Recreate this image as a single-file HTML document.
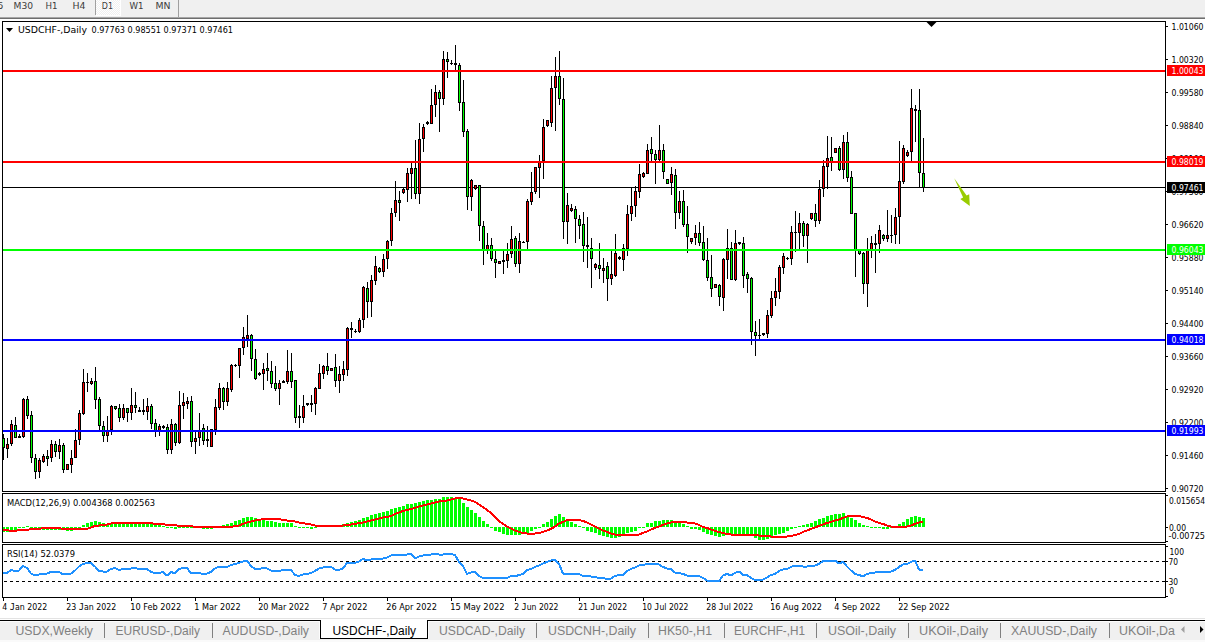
<!DOCTYPE html>
<html><head><meta charset="utf-8"><title>USDCHF-,Daily</title>
<style>html,body{margin:0;padding:0;background:#fff;overflow:hidden}svg{display:block}text{white-space:pre}</style></head>
<body>
<svg width="1205" height="642" viewBox="0 0 1205 642" font-family="Liberation Sans, sans-serif" shape-rendering="crispEdges">
<rect x="0" y="0" width="1205" height="642" fill="#fff"/>
<rect x="0" y="0" width="1205" height="17" fill="#f0f0f0"/>
<rect x="0" y="17" width="1205" height="1" fill="#a6a6a6"/>
<rect x="0" y="18" width="1205" height="1" fill="#6e6e6e"/>
<defs><pattern id="dz" width="2" height="2" patternUnits="userSpaceOnUse"><rect width="2" height="2" fill="#f0f0f0"/><rect width="1" height="1" fill="#fff"/><rect x="1" y="1" width="1" height="1" fill="#fff"/></pattern></defs>
<rect x="96" y="0" width="24" height="15" fill="url(#dz)"/>
<rect x="120" y="0" width="1" height="16" fill="#fff"/>
<rect x="96" y="15" width="25" height="1" fill="#fff"/>
<rect x="95" y="0" width="1" height="15" fill="#a0a0a0"/>
<rect x="178" y="0" width="1" height="17" fill="#a0a0a0"/>
<text x="-2.5" y="9" font-size="9.5" fill="#3c3c3c" textLength="6.0" lengthAdjust="spacingAndGlyphs" font-family="DejaVu Sans Condensed, Liberation Sans, sans-serif">5</text>
<text x="13.5" y="9" font-size="9.5" fill="#3c3c3c" textLength="19.5" lengthAdjust="spacingAndGlyphs" font-family="DejaVu Sans Condensed, Liberation Sans, sans-serif">M30</text>
<text x="45.5" y="9" font-size="9.5" fill="#3c3c3c" textLength="12.0" lengthAdjust="spacingAndGlyphs" font-family="DejaVu Sans Condensed, Liberation Sans, sans-serif">H1</text>
<text x="72.5" y="9" font-size="9.5" fill="#3c3c3c" textLength="13.0" lengthAdjust="spacingAndGlyphs" font-family="DejaVu Sans Condensed, Liberation Sans, sans-serif">H4</text>
<text x="101.8" y="9" font-size="9.5" fill="#3c3c3c" textLength="11.2" lengthAdjust="spacingAndGlyphs" font-family="DejaVu Sans Condensed, Liberation Sans, sans-serif">D1</text>
<text x="129.5" y="9" font-size="9.5" fill="#3c3c3c" textLength="14.0" lengthAdjust="spacingAndGlyphs" font-family="DejaVu Sans Condensed, Liberation Sans, sans-serif">W1</text>
<text x="155.5" y="9" font-size="9.5" fill="#3c3c3c" textLength="15.0" lengthAdjust="spacingAndGlyphs" font-family="DejaVu Sans Condensed, Liberation Sans, sans-serif">MN</text>
<rect x="3" y="187" width="1162" height="1" fill="#000"/>
<rect x="3" y="434" width="1" height="26" fill="#000"/>
<rect x="2" y="438" width="3" height="10" fill="#000"/>
<rect x="3" y="439" width="1" height="8" fill="#00ff00"/>
<rect x="7" y="438" width="1" height="20" fill="#000"/>
<rect x="6" y="444" width="3" height="5" fill="#000"/>
<rect x="7" y="445" width="1" height="3" fill="#ff0000"/>
<rect x="11" y="420" width="1" height="26" fill="#000"/>
<rect x="10" y="424" width="3" height="20" fill="#000"/>
<rect x="11" y="425" width="1" height="18" fill="#ff0000"/>
<rect x="15" y="417" width="1" height="21" fill="#000"/>
<rect x="14" y="425" width="3" height="13" fill="#000"/>
<rect x="15" y="426" width="1" height="11" fill="#00ff00"/>
<rect x="19" y="434" width="1" height="4" fill="#000"/>
<rect x="18" y="436" width="3" height="2" fill="#000"/>
<rect x="23" y="398" width="1" height="40" fill="#000"/>
<rect x="22" y="399" width="3" height="38" fill="#000"/>
<rect x="23" y="400" width="1" height="36" fill="#ff0000"/>
<rect x="27" y="396" width="1" height="23" fill="#000"/>
<rect x="26" y="399" width="3" height="17" fill="#000"/>
<rect x="27" y="400" width="1" height="15" fill="#00ff00"/>
<rect x="31" y="411" width="1" height="52" fill="#000"/>
<rect x="30" y="415" width="3" height="43" fill="#000"/>
<rect x="31" y="416" width="1" height="41" fill="#00ff00"/>
<rect x="35" y="454" width="1" height="25" fill="#000"/>
<rect x="34" y="458" width="3" height="14" fill="#000"/>
<rect x="35" y="459" width="1" height="12" fill="#00ff00"/>
<rect x="39" y="458" width="1" height="20" fill="#000"/>
<rect x="38" y="460" width="3" height="12" fill="#000"/>
<rect x="39" y="461" width="1" height="10" fill="#ff0000"/>
<rect x="43" y="454" width="1" height="9" fill="#000"/>
<rect x="42" y="456" width="3" height="6" fill="#000"/>
<rect x="43" y="457" width="1" height="4" fill="#ff0000"/>
<rect x="47" y="450" width="1" height="16" fill="#000"/>
<rect x="46" y="456" width="3" height="3" fill="#000"/>
<rect x="47" y="457" width="1" height="1" fill="#00ff00"/>
<rect x="51" y="440" width="1" height="22" fill="#000"/>
<rect x="50" y="444" width="3" height="14" fill="#000"/>
<rect x="51" y="445" width="1" height="12" fill="#ff0000"/>
<rect x="55" y="441" width="1" height="16" fill="#000"/>
<rect x="54" y="444" width="3" height="8" fill="#000"/>
<rect x="55" y="445" width="1" height="6" fill="#00ff00"/>
<rect x="59" y="439" width="1" height="20" fill="#000"/>
<rect x="58" y="445" width="3" height="7" fill="#000"/>
<rect x="59" y="446" width="1" height="5" fill="#ff0000"/>
<rect x="63" y="443" width="1" height="30" fill="#000"/>
<rect x="62" y="445" width="3" height="25" fill="#000"/>
<rect x="63" y="446" width="1" height="23" fill="#00ff00"/>
<rect x="67" y="465" width="1" height="5" fill="#000"/>
<rect x="66" y="464" width="3" height="6" fill="#000"/>
<rect x="67" y="465" width="1" height="4" fill="#ff0000"/>
<rect x="71" y="450" width="1" height="23" fill="#000"/>
<rect x="70" y="458" width="3" height="7" fill="#000"/>
<rect x="71" y="459" width="1" height="5" fill="#ff0000"/>
<rect x="75" y="429" width="1" height="29" fill="#000"/>
<rect x="74" y="440" width="3" height="18" fill="#000"/>
<rect x="75" y="441" width="1" height="16" fill="#ff0000"/>
<rect x="79" y="410" width="1" height="35" fill="#000"/>
<rect x="78" y="413" width="3" height="27" fill="#000"/>
<rect x="79" y="414" width="1" height="25" fill="#ff0000"/>
<rect x="83" y="369" width="1" height="46" fill="#000"/>
<rect x="82" y="382" width="3" height="32" fill="#000"/>
<rect x="83" y="383" width="1" height="30" fill="#ff0000"/>
<rect x="87" y="373" width="1" height="19" fill="#000"/>
<rect x="86" y="382" width="3" height="1" fill="#000"/>
<rect x="91" y="378" width="1" height="7" fill="#000"/>
<rect x="90" y="381" width="3" height="3" fill="#000"/>
<rect x="91" y="382" width="1" height="1" fill="#ff0000"/>
<rect x="95" y="367" width="1" height="42" fill="#000"/>
<rect x="94" y="381" width="3" height="19" fill="#000"/>
<rect x="95" y="382" width="1" height="17" fill="#00ff00"/>
<rect x="99" y="397" width="1" height="33" fill="#000"/>
<rect x="98" y="399" width="3" height="27" fill="#000"/>
<rect x="99" y="400" width="1" height="25" fill="#00ff00"/>
<rect x="103" y="421" width="1" height="21" fill="#000"/>
<rect x="102" y="426" width="3" height="10" fill="#000"/>
<rect x="103" y="427" width="1" height="8" fill="#00ff00"/>
<rect x="107" y="416" width="1" height="26" fill="#000"/>
<rect x="106" y="430" width="3" height="6" fill="#000"/>
<rect x="107" y="431" width="1" height="4" fill="#ff0000"/>
<rect x="111" y="405" width="1" height="30" fill="#000"/>
<rect x="110" y="406" width="3" height="24" fill="#000"/>
<rect x="111" y="407" width="1" height="22" fill="#ff0000"/>
<rect x="115" y="406" width="1" height="4" fill="#000"/>
<rect x="114" y="406" width="3" height="3" fill="#000"/>
<rect x="115" y="407" width="1" height="1" fill="#00ff00"/>
<rect x="119" y="404" width="1" height="18" fill="#000"/>
<rect x="118" y="408" width="3" height="10" fill="#000"/>
<rect x="119" y="409" width="1" height="8" fill="#00ff00"/>
<rect x="123" y="404" width="1" height="16" fill="#000"/>
<rect x="122" y="408" width="3" height="10" fill="#000"/>
<rect x="123" y="409" width="1" height="8" fill="#ff0000"/>
<rect x="127" y="408" width="1" height="14" fill="#000"/>
<rect x="126" y="408" width="3" height="5" fill="#000"/>
<rect x="127" y="409" width="1" height="3" fill="#00ff00"/>
<rect x="131" y="388" width="1" height="32" fill="#000"/>
<rect x="130" y="405" width="3" height="8" fill="#000"/>
<rect x="131" y="406" width="1" height="6" fill="#ff0000"/>
<rect x="135" y="392" width="1" height="21" fill="#000"/>
<rect x="134" y="405" width="3" height="3" fill="#000"/>
<rect x="135" y="406" width="1" height="1" fill="#00ff00"/>
<rect x="139" y="407" width="1" height="5" fill="#000"/>
<rect x="138" y="410" width="3" height="2" fill="#000"/>
<rect x="143" y="399" width="1" height="16" fill="#000"/>
<rect x="142" y="410" width="3" height="2" fill="#000"/>
<rect x="147" y="398" width="1" height="22" fill="#000"/>
<rect x="146" y="406" width="3" height="6" fill="#000"/>
<rect x="147" y="407" width="1" height="4" fill="#ff0000"/>
<rect x="151" y="404" width="1" height="25" fill="#000"/>
<rect x="150" y="406" width="3" height="18" fill="#000"/>
<rect x="151" y="407" width="1" height="16" fill="#00ff00"/>
<rect x="155" y="419" width="1" height="18" fill="#000"/>
<rect x="154" y="423" width="3" height="9" fill="#000"/>
<rect x="155" y="424" width="1" height="7" fill="#00ff00"/>
<rect x="159" y="424" width="1" height="12" fill="#000"/>
<rect x="158" y="426" width="3" height="6" fill="#000"/>
<rect x="159" y="427" width="1" height="4" fill="#ff0000"/>
<rect x="163" y="425" width="1" height="4" fill="#000"/>
<rect x="162" y="426" width="3" height="2" fill="#000"/>
<rect x="167" y="424" width="1" height="30" fill="#000"/>
<rect x="166" y="427" width="3" height="23" fill="#000"/>
<rect x="167" y="428" width="1" height="21" fill="#00ff00"/>
<rect x="171" y="419" width="1" height="35" fill="#000"/>
<rect x="170" y="424" width="3" height="26" fill="#000"/>
<rect x="171" y="425" width="1" height="24" fill="#ff0000"/>
<rect x="175" y="423" width="1" height="23" fill="#000"/>
<rect x="174" y="424" width="3" height="19" fill="#000"/>
<rect x="175" y="425" width="1" height="17" fill="#00ff00"/>
<rect x="179" y="391" width="1" height="53" fill="#000"/>
<rect x="178" y="405" width="3" height="38" fill="#000"/>
<rect x="179" y="406" width="1" height="36" fill="#ff0000"/>
<rect x="183" y="393" width="1" height="26" fill="#000"/>
<rect x="182" y="402" width="3" height="4" fill="#000"/>
<rect x="183" y="403" width="1" height="2" fill="#ff0000"/>
<rect x="187" y="397" width="1" height="12" fill="#000"/>
<rect x="186" y="401" width="3" height="3" fill="#000"/>
<rect x="187" y="402" width="1" height="1" fill="#ff0000"/>
<rect x="191" y="396" width="1" height="51" fill="#000"/>
<rect x="190" y="401" width="3" height="41" fill="#000"/>
<rect x="191" y="402" width="1" height="39" fill="#00ff00"/>
<rect x="195" y="430" width="1" height="24" fill="#000"/>
<rect x="194" y="438" width="3" height="4" fill="#000"/>
<rect x="195" y="439" width="1" height="2" fill="#ff0000"/>
<rect x="199" y="413" width="1" height="33" fill="#000"/>
<rect x="198" y="430" width="3" height="8" fill="#000"/>
<rect x="199" y="431" width="1" height="6" fill="#ff0000"/>
<rect x="203" y="424" width="1" height="21" fill="#000"/>
<rect x="202" y="428" width="3" height="13" fill="#000"/>
<rect x="203" y="429" width="1" height="11" fill="#00ff00"/>
<rect x="207" y="426" width="1" height="21" fill="#000"/>
<rect x="206" y="439" width="3" height="2" fill="#000"/>
<rect x="211" y="429" width="1" height="18" fill="#000"/>
<rect x="210" y="429" width="3" height="18" fill="#000"/>
<rect x="211" y="430" width="1" height="16" fill="#ff0000"/>
<rect x="215" y="399" width="1" height="36" fill="#000"/>
<rect x="214" y="407" width="3" height="23" fill="#000"/>
<rect x="215" y="408" width="1" height="21" fill="#ff0000"/>
<rect x="219" y="383" width="1" height="27" fill="#000"/>
<rect x="218" y="388" width="3" height="20" fill="#000"/>
<rect x="219" y="389" width="1" height="18" fill="#ff0000"/>
<rect x="223" y="387" width="1" height="23" fill="#000"/>
<rect x="222" y="388" width="3" height="14" fill="#000"/>
<rect x="223" y="389" width="1" height="12" fill="#00ff00"/>
<rect x="227" y="382" width="1" height="24" fill="#000"/>
<rect x="226" y="388" width="3" height="14" fill="#000"/>
<rect x="227" y="389" width="1" height="12" fill="#ff0000"/>
<rect x="231" y="364" width="1" height="28" fill="#000"/>
<rect x="230" y="365" width="3" height="25" fill="#000"/>
<rect x="231" y="366" width="1" height="23" fill="#ff0000"/>
<rect x="235" y="364" width="1" height="3" fill="#000"/>
<rect x="234" y="365" width="3" height="1" fill="#000"/>
<rect x="239" y="348" width="1" height="30" fill="#000"/>
<rect x="238" y="348" width="3" height="18" fill="#000"/>
<rect x="239" y="349" width="1" height="16" fill="#ff0000"/>
<rect x="243" y="327" width="1" height="28" fill="#000"/>
<rect x="242" y="337" width="3" height="11" fill="#000"/>
<rect x="243" y="338" width="1" height="9" fill="#ff0000"/>
<rect x="247" y="315" width="1" height="32" fill="#000"/>
<rect x="246" y="335" width="3" height="4" fill="#000"/>
<rect x="247" y="336" width="1" height="2" fill="#ff0000"/>
<rect x="251" y="334" width="1" height="37" fill="#000"/>
<rect x="250" y="335" width="3" height="24" fill="#000"/>
<rect x="251" y="336" width="1" height="22" fill="#00ff00"/>
<rect x="255" y="349" width="1" height="31" fill="#000"/>
<rect x="254" y="359" width="3" height="20" fill="#000"/>
<rect x="255" y="360" width="1" height="18" fill="#00ff00"/>
<rect x="259" y="372" width="1" height="4" fill="#000"/>
<rect x="258" y="373" width="3" height="2" fill="#000"/>
<rect x="263" y="363" width="1" height="27" fill="#000"/>
<rect x="262" y="369" width="3" height="5" fill="#000"/>
<rect x="263" y="370" width="1" height="3" fill="#ff0000"/>
<rect x="267" y="353" width="1" height="28" fill="#000"/>
<rect x="266" y="368" width="3" height="3" fill="#000"/>
<rect x="267" y="369" width="1" height="1" fill="#00ff00"/>
<rect x="271" y="361" width="1" height="27" fill="#000"/>
<rect x="270" y="371" width="3" height="13" fill="#000"/>
<rect x="271" y="372" width="1" height="11" fill="#00ff00"/>
<rect x="275" y="366" width="1" height="25" fill="#000"/>
<rect x="274" y="383" width="3" height="6" fill="#000"/>
<rect x="275" y="384" width="1" height="4" fill="#00ff00"/>
<rect x="279" y="380" width="1" height="25" fill="#000"/>
<rect x="278" y="383" width="3" height="6" fill="#000"/>
<rect x="279" y="384" width="1" height="4" fill="#ff0000"/>
<rect x="283" y="380" width="1" height="2" fill="#000"/>
<rect x="282" y="381" width="3" height="2" fill="#000"/>
<rect x="287" y="350" width="1" height="34" fill="#000"/>
<rect x="286" y="371" width="3" height="11" fill="#000"/>
<rect x="287" y="372" width="1" height="9" fill="#ff0000"/>
<rect x="291" y="353" width="1" height="35" fill="#000"/>
<rect x="290" y="371" width="3" height="11" fill="#000"/>
<rect x="291" y="372" width="1" height="9" fill="#00ff00"/>
<rect x="295" y="380" width="1" height="43" fill="#000"/>
<rect x="294" y="380" width="3" height="38" fill="#000"/>
<rect x="295" y="381" width="1" height="36" fill="#00ff00"/>
<rect x="299" y="405" width="1" height="23" fill="#000"/>
<rect x="298" y="416" width="3" height="2" fill="#000"/>
<rect x="303" y="395" width="1" height="28" fill="#000"/>
<rect x="302" y="406" width="3" height="12" fill="#000"/>
<rect x="303" y="407" width="1" height="10" fill="#ff0000"/>
<rect x="307" y="404" width="1" height="2" fill="#000"/>
<rect x="306" y="403" width="3" height="2" fill="#000"/>
<rect x="311" y="395" width="1" height="17" fill="#000"/>
<rect x="310" y="403" width="3" height="2" fill="#000"/>
<rect x="315" y="387" width="1" height="28" fill="#000"/>
<rect x="314" y="388" width="3" height="16" fill="#000"/>
<rect x="315" y="389" width="1" height="14" fill="#ff0000"/>
<rect x="319" y="364" width="1" height="25" fill="#000"/>
<rect x="318" y="373" width="3" height="16" fill="#000"/>
<rect x="319" y="374" width="1" height="14" fill="#ff0000"/>
<rect x="323" y="365" width="1" height="14" fill="#000"/>
<rect x="322" y="366" width="3" height="8" fill="#000"/>
<rect x="323" y="367" width="1" height="6" fill="#ff0000"/>
<rect x="327" y="353" width="1" height="22" fill="#000"/>
<rect x="326" y="366" width="3" height="5" fill="#000"/>
<rect x="327" y="367" width="1" height="3" fill="#00ff00"/>
<rect x="331" y="368" width="1" height="3" fill="#000"/>
<rect x="330" y="368" width="3" height="3" fill="#000"/>
<rect x="331" y="369" width="1" height="1" fill="#ff0000"/>
<rect x="335" y="354" width="1" height="33" fill="#000"/>
<rect x="334" y="367" width="3" height="14" fill="#000"/>
<rect x="335" y="368" width="1" height="12" fill="#00ff00"/>
<rect x="339" y="366" width="1" height="27" fill="#000"/>
<rect x="338" y="374" width="3" height="7" fill="#000"/>
<rect x="339" y="375" width="1" height="5" fill="#ff0000"/>
<rect x="343" y="361" width="1" height="20" fill="#000"/>
<rect x="342" y="369" width="3" height="6" fill="#000"/>
<rect x="343" y="370" width="1" height="4" fill="#ff0000"/>
<rect x="347" y="327" width="1" height="49" fill="#000"/>
<rect x="346" y="328" width="3" height="42" fill="#000"/>
<rect x="347" y="329" width="1" height="40" fill="#ff0000"/>
<rect x="351" y="322" width="1" height="16" fill="#000"/>
<rect x="350" y="328" width="3" height="2" fill="#000"/>
<rect x="355" y="329" width="1" height="4" fill="#000"/>
<rect x="354" y="331" width="3" height="1" fill="#000"/>
<rect x="359" y="318" width="1" height="15" fill="#000"/>
<rect x="358" y="320" width="3" height="12" fill="#000"/>
<rect x="359" y="321" width="1" height="10" fill="#ff0000"/>
<rect x="363" y="286" width="1" height="42" fill="#000"/>
<rect x="362" y="287" width="3" height="33" fill="#000"/>
<rect x="363" y="288" width="1" height="31" fill="#ff0000"/>
<rect x="367" y="282" width="1" height="36" fill="#000"/>
<rect x="366" y="288" width="3" height="14" fill="#000"/>
<rect x="367" y="289" width="1" height="12" fill="#00ff00"/>
<rect x="371" y="275" width="1" height="42" fill="#000"/>
<rect x="370" y="280" width="3" height="22" fill="#000"/>
<rect x="371" y="281" width="1" height="20" fill="#ff0000"/>
<rect x="375" y="256" width="1" height="29" fill="#000"/>
<rect x="374" y="266" width="3" height="15" fill="#000"/>
<rect x="375" y="267" width="1" height="13" fill="#ff0000"/>
<rect x="379" y="267" width="1" height="6" fill="#000"/>
<rect x="378" y="268" width="3" height="4" fill="#000"/>
<rect x="379" y="269" width="1" height="2" fill="#00ff00"/>
<rect x="383" y="254" width="1" height="23" fill="#000"/>
<rect x="382" y="259" width="3" height="13" fill="#000"/>
<rect x="383" y="260" width="1" height="11" fill="#ff0000"/>
<rect x="387" y="240" width="1" height="29" fill="#000"/>
<rect x="386" y="241" width="3" height="18" fill="#000"/>
<rect x="387" y="242" width="1" height="16" fill="#ff0000"/>
<rect x="391" y="208" width="1" height="38" fill="#000"/>
<rect x="390" y="213" width="3" height="28" fill="#000"/>
<rect x="391" y="214" width="1" height="26" fill="#ff0000"/>
<rect x="395" y="181" width="1" height="36" fill="#000"/>
<rect x="394" y="200" width="3" height="13" fill="#000"/>
<rect x="395" y="201" width="1" height="11" fill="#ff0000"/>
<rect x="399" y="191" width="1" height="30" fill="#000"/>
<rect x="398" y="200" width="3" height="3" fill="#000"/>
<rect x="399" y="201" width="1" height="1" fill="#00ff00"/>
<rect x="403" y="188" width="1" height="6" fill="#000"/>
<rect x="402" y="189" width="3" height="4" fill="#000"/>
<rect x="403" y="190" width="1" height="2" fill="#ff0000"/>
<rect x="407" y="168" width="1" height="34" fill="#000"/>
<rect x="406" y="173" width="3" height="17" fill="#000"/>
<rect x="407" y="174" width="1" height="15" fill="#ff0000"/>
<rect x="411" y="163" width="1" height="36" fill="#000"/>
<rect x="410" y="168" width="3" height="6" fill="#000"/>
<rect x="411" y="169" width="1" height="4" fill="#ff0000"/>
<rect x="415" y="140" width="1" height="59" fill="#000"/>
<rect x="414" y="168" width="3" height="26" fill="#000"/>
<rect x="415" y="169" width="1" height="24" fill="#00ff00"/>
<rect x="419" y="123" width="1" height="81" fill="#000"/>
<rect x="418" y="139" width="3" height="55" fill="#000"/>
<rect x="419" y="140" width="1" height="53" fill="#ff0000"/>
<rect x="423" y="124" width="1" height="28" fill="#000"/>
<rect x="422" y="127" width="3" height="12" fill="#000"/>
<rect x="423" y="128" width="1" height="10" fill="#ff0000"/>
<rect x="427" y="121" width="1" height="4" fill="#000"/>
<rect x="426" y="122" width="3" height="2" fill="#000"/>
<rect x="431" y="89" width="1" height="35" fill="#000"/>
<rect x="430" y="105" width="3" height="19" fill="#000"/>
<rect x="431" y="106" width="1" height="17" fill="#ff0000"/>
<rect x="435" y="85" width="1" height="32" fill="#000"/>
<rect x="434" y="92" width="3" height="13" fill="#000"/>
<rect x="435" y="93" width="1" height="11" fill="#ff0000"/>
<rect x="439" y="90" width="1" height="42" fill="#000"/>
<rect x="438" y="92" width="3" height="7" fill="#000"/>
<rect x="439" y="93" width="1" height="5" fill="#00ff00"/>
<rect x="443" y="51" width="1" height="54" fill="#000"/>
<rect x="442" y="59" width="3" height="40" fill="#000"/>
<rect x="443" y="60" width="1" height="38" fill="#ff0000"/>
<rect x="447" y="52" width="1" height="26" fill="#000"/>
<rect x="446" y="59" width="3" height="3" fill="#000"/>
<rect x="447" y="60" width="1" height="1" fill="#00ff00"/>
<rect x="451" y="60" width="1" height="5" fill="#000"/>
<rect x="450" y="63" width="3" height="1" fill="#000"/>
<rect x="455" y="45" width="1" height="25" fill="#000"/>
<rect x="454" y="63" width="3" height="2" fill="#000"/>
<rect x="459" y="63" width="1" height="48" fill="#000"/>
<rect x="458" y="65" width="3" height="38" fill="#000"/>
<rect x="459" y="66" width="1" height="36" fill="#00ff00"/>
<rect x="463" y="80" width="1" height="57" fill="#000"/>
<rect x="462" y="102" width="3" height="30" fill="#000"/>
<rect x="463" y="103" width="1" height="28" fill="#00ff00"/>
<rect x="467" y="129" width="1" height="81" fill="#000"/>
<rect x="466" y="131" width="3" height="66" fill="#000"/>
<rect x="467" y="132" width="1" height="64" fill="#00ff00"/>
<rect x="471" y="179" width="1" height="32" fill="#000"/>
<rect x="470" y="180" width="3" height="17" fill="#000"/>
<rect x="471" y="181" width="1" height="15" fill="#ff0000"/>
<rect x="475" y="186" width="1" height="4" fill="#000"/>
<rect x="474" y="185" width="3" height="4" fill="#000"/>
<rect x="475" y="186" width="1" height="2" fill="#ff0000"/>
<rect x="479" y="185" width="1" height="56" fill="#000"/>
<rect x="478" y="185" width="3" height="41" fill="#000"/>
<rect x="479" y="186" width="1" height="39" fill="#00ff00"/>
<rect x="483" y="221" width="1" height="44" fill="#000"/>
<rect x="482" y="226" width="3" height="24" fill="#000"/>
<rect x="483" y="227" width="1" height="22" fill="#00ff00"/>
<rect x="487" y="233" width="1" height="21" fill="#000"/>
<rect x="486" y="245" width="3" height="6" fill="#000"/>
<rect x="487" y="246" width="1" height="4" fill="#ff0000"/>
<rect x="491" y="238" width="1" height="23" fill="#000"/>
<rect x="490" y="245" width="3" height="14" fill="#000"/>
<rect x="491" y="246" width="1" height="12" fill="#00ff00"/>
<rect x="495" y="251" width="1" height="27" fill="#000"/>
<rect x="494" y="259" width="3" height="4" fill="#000"/>
<rect x="495" y="260" width="1" height="2" fill="#00ff00"/>
<rect x="499" y="262" width="1" height="2" fill="#000"/>
<rect x="498" y="261" width="3" height="3" fill="#000"/>
<rect x="499" y="262" width="1" height="1" fill="#ff0000"/>
<rect x="503" y="251" width="1" height="23" fill="#000"/>
<rect x="502" y="260" width="3" height="2" fill="#000"/>
<rect x="507" y="243" width="1" height="25" fill="#000"/>
<rect x="506" y="254" width="3" height="7" fill="#000"/>
<rect x="507" y="255" width="1" height="5" fill="#ff0000"/>
<rect x="511" y="226" width="1" height="32" fill="#000"/>
<rect x="510" y="239" width="3" height="15" fill="#000"/>
<rect x="511" y="240" width="1" height="13" fill="#ff0000"/>
<rect x="515" y="236" width="1" height="31" fill="#000"/>
<rect x="514" y="238" width="3" height="26" fill="#000"/>
<rect x="515" y="239" width="1" height="24" fill="#00ff00"/>
<rect x="519" y="233" width="1" height="40" fill="#000"/>
<rect x="518" y="241" width="3" height="23" fill="#000"/>
<rect x="519" y="242" width="1" height="21" fill="#ff0000"/>
<rect x="523" y="241" width="1" height="2" fill="#000"/>
<rect x="522" y="242" width="3" height="1" fill="#000"/>
<rect x="527" y="199" width="1" height="50" fill="#000"/>
<rect x="526" y="201" width="3" height="41" fill="#000"/>
<rect x="527" y="202" width="1" height="39" fill="#ff0000"/>
<rect x="531" y="172" width="1" height="33" fill="#000"/>
<rect x="530" y="192" width="3" height="10" fill="#000"/>
<rect x="531" y="193" width="1" height="8" fill="#ff0000"/>
<rect x="535" y="167" width="1" height="27" fill="#000"/>
<rect x="534" y="167" width="3" height="25" fill="#000"/>
<rect x="535" y="168" width="1" height="23" fill="#ff0000"/>
<rect x="539" y="155" width="1" height="43" fill="#000"/>
<rect x="538" y="161" width="3" height="7" fill="#000"/>
<rect x="539" y="162" width="1" height="5" fill="#ff0000"/>
<rect x="543" y="119" width="1" height="60" fill="#000"/>
<rect x="542" y="127" width="3" height="34" fill="#000"/>
<rect x="543" y="128" width="1" height="32" fill="#ff0000"/>
<rect x="547" y="120" width="1" height="7" fill="#000"/>
<rect x="546" y="120" width="3" height="6" fill="#000"/>
<rect x="547" y="121" width="1" height="4" fill="#ff0000"/>
<rect x="551" y="76" width="1" height="51" fill="#000"/>
<rect x="550" y="88" width="3" height="35" fill="#000"/>
<rect x="551" y="89" width="1" height="33" fill="#ff0000"/>
<rect x="555" y="57" width="1" height="74" fill="#000"/>
<rect x="554" y="76" width="3" height="12" fill="#000"/>
<rect x="555" y="77" width="1" height="10" fill="#ff0000"/>
<rect x="559" y="51" width="1" height="54" fill="#000"/>
<rect x="558" y="76" width="3" height="23" fill="#000"/>
<rect x="559" y="77" width="1" height="21" fill="#00ff00"/>
<rect x="563" y="78" width="1" height="161" fill="#000"/>
<rect x="562" y="99" width="3" height="123" fill="#000"/>
<rect x="563" y="100" width="1" height="121" fill="#00ff00"/>
<rect x="567" y="193" width="1" height="51" fill="#000"/>
<rect x="566" y="205" width="3" height="17" fill="#000"/>
<rect x="567" y="206" width="1" height="15" fill="#ff0000"/>
<rect x="571" y="204" width="1" height="8" fill="#000"/>
<rect x="570" y="208" width="3" height="3" fill="#000"/>
<rect x="571" y="209" width="1" height="1" fill="#ff0000"/>
<rect x="575" y="206" width="1" height="37" fill="#000"/>
<rect x="574" y="209" width="3" height="10" fill="#000"/>
<rect x="575" y="210" width="1" height="8" fill="#00ff00"/>
<rect x="579" y="215" width="1" height="24" fill="#000"/>
<rect x="578" y="219" width="3" height="7" fill="#000"/>
<rect x="579" y="220" width="1" height="5" fill="#00ff00"/>
<rect x="583" y="212" width="1" height="50" fill="#000"/>
<rect x="582" y="224" width="3" height="22" fill="#000"/>
<rect x="583" y="225" width="1" height="20" fill="#00ff00"/>
<rect x="587" y="217" width="1" height="51" fill="#000"/>
<rect x="586" y="245" width="3" height="2" fill="#000"/>
<rect x="591" y="238" width="1" height="50" fill="#000"/>
<rect x="590" y="248" width="3" height="11" fill="#000"/>
<rect x="591" y="249" width="1" height="9" fill="#00ff00"/>
<rect x="595" y="263" width="1" height="7" fill="#000"/>
<rect x="594" y="264" width="3" height="4" fill="#000"/>
<rect x="595" y="265" width="1" height="2" fill="#ff0000"/>
<rect x="599" y="243" width="1" height="36" fill="#000"/>
<rect x="598" y="265" width="3" height="4" fill="#000"/>
<rect x="599" y="266" width="1" height="2" fill="#00ff00"/>
<rect x="603" y="258" width="1" height="25" fill="#000"/>
<rect x="602" y="268" width="3" height="3" fill="#000"/>
<rect x="603" y="269" width="1" height="1" fill="#ff0000"/>
<rect x="607" y="262" width="1" height="39" fill="#000"/>
<rect x="606" y="266" width="3" height="13" fill="#000"/>
<rect x="607" y="267" width="1" height="11" fill="#00ff00"/>
<rect x="611" y="251" width="1" height="34" fill="#000"/>
<rect x="610" y="274" width="3" height="5" fill="#000"/>
<rect x="611" y="275" width="1" height="3" fill="#ff0000"/>
<rect x="615" y="234" width="1" height="43" fill="#000"/>
<rect x="614" y="253" width="3" height="23" fill="#000"/>
<rect x="615" y="254" width="1" height="21" fill="#ff0000"/>
<rect x="619" y="256" width="1" height="4" fill="#000"/>
<rect x="618" y="257" width="3" height="2" fill="#000"/>
<rect x="623" y="244" width="1" height="27" fill="#000"/>
<rect x="622" y="248" width="3" height="12" fill="#000"/>
<rect x="623" y="249" width="1" height="10" fill="#ff0000"/>
<rect x="627" y="205" width="1" height="51" fill="#000"/>
<rect x="626" y="214" width="3" height="35" fill="#000"/>
<rect x="627" y="215" width="1" height="33" fill="#ff0000"/>
<rect x="631" y="188" width="1" height="33" fill="#000"/>
<rect x="630" y="206" width="3" height="8" fill="#000"/>
<rect x="631" y="207" width="1" height="6" fill="#ff0000"/>
<rect x="635" y="186" width="1" height="31" fill="#000"/>
<rect x="634" y="191" width="3" height="15" fill="#000"/>
<rect x="635" y="192" width="1" height="13" fill="#ff0000"/>
<rect x="639" y="164" width="1" height="34" fill="#000"/>
<rect x="638" y="174" width="3" height="18" fill="#000"/>
<rect x="639" y="175" width="1" height="16" fill="#ff0000"/>
<rect x="643" y="172" width="1" height="6" fill="#000"/>
<rect x="642" y="173" width="3" height="4" fill="#000"/>
<rect x="643" y="174" width="1" height="2" fill="#ff0000"/>
<rect x="647" y="144" width="1" height="30" fill="#000"/>
<rect x="646" y="150" width="3" height="24" fill="#000"/>
<rect x="647" y="151" width="1" height="22" fill="#ff0000"/>
<rect x="651" y="137" width="1" height="24" fill="#000"/>
<rect x="650" y="149" width="3" height="5" fill="#000"/>
<rect x="651" y="150" width="1" height="3" fill="#00ff00"/>
<rect x="655" y="150" width="1" height="34" fill="#000"/>
<rect x="654" y="154" width="3" height="6" fill="#000"/>
<rect x="655" y="155" width="1" height="4" fill="#00ff00"/>
<rect x="659" y="125" width="1" height="36" fill="#000"/>
<rect x="658" y="150" width="3" height="10" fill="#000"/>
<rect x="659" y="151" width="1" height="8" fill="#ff0000"/>
<rect x="663" y="144" width="1" height="35" fill="#000"/>
<rect x="662" y="150" width="3" height="22" fill="#000"/>
<rect x="663" y="151" width="1" height="20" fill="#00ff00"/>
<rect x="667" y="179" width="1" height="5" fill="#000"/>
<rect x="666" y="179" width="3" height="5" fill="#000"/>
<rect x="667" y="180" width="1" height="3" fill="#00ff00"/>
<rect x="671" y="167" width="1" height="28" fill="#000"/>
<rect x="670" y="174" width="3" height="9" fill="#000"/>
<rect x="671" y="175" width="1" height="7" fill="#ff0000"/>
<rect x="675" y="169" width="1" height="60" fill="#000"/>
<rect x="674" y="175" width="3" height="38" fill="#000"/>
<rect x="675" y="176" width="1" height="36" fill="#00ff00"/>
<rect x="679" y="191" width="1" height="28" fill="#000"/>
<rect x="678" y="201" width="3" height="12" fill="#000"/>
<rect x="679" y="202" width="1" height="10" fill="#ff0000"/>
<rect x="683" y="190" width="1" height="37" fill="#000"/>
<rect x="682" y="201" width="3" height="24" fill="#000"/>
<rect x="683" y="202" width="1" height="22" fill="#00ff00"/>
<rect x="687" y="206" width="1" height="47" fill="#000"/>
<rect x="686" y="224" width="3" height="13" fill="#000"/>
<rect x="687" y="225" width="1" height="11" fill="#00ff00"/>
<rect x="691" y="238" width="1" height="6" fill="#000"/>
<rect x="690" y="238" width="3" height="4" fill="#000"/>
<rect x="691" y="239" width="1" height="2" fill="#ff0000"/>
<rect x="695" y="225" width="1" height="20" fill="#000"/>
<rect x="694" y="233" width="3" height="5" fill="#000"/>
<rect x="695" y="234" width="1" height="3" fill="#ff0000"/>
<rect x="699" y="222" width="1" height="24" fill="#000"/>
<rect x="698" y="233" width="3" height="10" fill="#000"/>
<rect x="699" y="234" width="1" height="8" fill="#00ff00"/>
<rect x="703" y="226" width="1" height="35" fill="#000"/>
<rect x="702" y="242" width="3" height="18" fill="#000"/>
<rect x="703" y="243" width="1" height="16" fill="#00ff00"/>
<rect x="707" y="238" width="1" height="43" fill="#000"/>
<rect x="706" y="260" width="3" height="18" fill="#000"/>
<rect x="707" y="261" width="1" height="16" fill="#00ff00"/>
<rect x="711" y="255" width="1" height="42" fill="#000"/>
<rect x="710" y="277" width="3" height="12" fill="#000"/>
<rect x="711" y="278" width="1" height="10" fill="#00ff00"/>
<rect x="715" y="284" width="1" height="4" fill="#000"/>
<rect x="714" y="284" width="3" height="4" fill="#000"/>
<rect x="715" y="285" width="1" height="2" fill="#ff0000"/>
<rect x="719" y="284" width="1" height="22" fill="#000"/>
<rect x="718" y="285" width="3" height="12" fill="#000"/>
<rect x="719" y="286" width="1" height="10" fill="#00ff00"/>
<rect x="723" y="258" width="1" height="53" fill="#000"/>
<rect x="722" y="259" width="3" height="39" fill="#000"/>
<rect x="723" y="260" width="1" height="37" fill="#ff0000"/>
<rect x="727" y="229" width="1" height="50" fill="#000"/>
<rect x="726" y="248" width="3" height="12" fill="#000"/>
<rect x="727" y="249" width="1" height="10" fill="#ff0000"/>
<rect x="731" y="242" width="1" height="38" fill="#000"/>
<rect x="730" y="248" width="3" height="32" fill="#000"/>
<rect x="731" y="249" width="1" height="30" fill="#00ff00"/>
<rect x="735" y="230" width="1" height="51" fill="#000"/>
<rect x="734" y="243" width="3" height="37" fill="#000"/>
<rect x="735" y="244" width="1" height="35" fill="#ff0000"/>
<rect x="739" y="243" width="1" height="2" fill="#000"/>
<rect x="738" y="242" width="3" height="2" fill="#000"/>
<rect x="743" y="237" width="1" height="51" fill="#000"/>
<rect x="742" y="243" width="3" height="33" fill="#000"/>
<rect x="743" y="244" width="1" height="31" fill="#00ff00"/>
<rect x="747" y="272" width="1" height="21" fill="#000"/>
<rect x="746" y="274" width="3" height="5" fill="#000"/>
<rect x="747" y="275" width="1" height="3" fill="#00ff00"/>
<rect x="751" y="277" width="1" height="68" fill="#000"/>
<rect x="750" y="278" width="3" height="54" fill="#000"/>
<rect x="751" y="279" width="1" height="52" fill="#00ff00"/>
<rect x="755" y="321" width="1" height="35" fill="#000"/>
<rect x="754" y="332" width="3" height="4" fill="#000"/>
<rect x="755" y="333" width="1" height="2" fill="#00ff00"/>
<rect x="759" y="319" width="1" height="21" fill="#000"/>
<rect x="758" y="335" width="3" height="1" fill="#000"/>
<rect x="763" y="334" width="1" height="2" fill="#000"/>
<rect x="762" y="333" width="3" height="2" fill="#000"/>
<rect x="767" y="310" width="1" height="28" fill="#000"/>
<rect x="766" y="315" width="3" height="19" fill="#000"/>
<rect x="767" y="316" width="1" height="17" fill="#ff0000"/>
<rect x="771" y="291" width="1" height="27" fill="#000"/>
<rect x="770" y="298" width="3" height="18" fill="#000"/>
<rect x="771" y="299" width="1" height="16" fill="#ff0000"/>
<rect x="775" y="278" width="1" height="28" fill="#000"/>
<rect x="774" y="291" width="3" height="7" fill="#000"/>
<rect x="775" y="292" width="1" height="5" fill="#ff0000"/>
<rect x="779" y="265" width="1" height="34" fill="#000"/>
<rect x="778" y="267" width="3" height="25" fill="#000"/>
<rect x="779" y="268" width="1" height="23" fill="#ff0000"/>
<rect x="783" y="253" width="1" height="21" fill="#000"/>
<rect x="782" y="256" width="3" height="12" fill="#000"/>
<rect x="783" y="257" width="1" height="10" fill="#ff0000"/>
<rect x="787" y="257" width="1" height="3" fill="#000"/>
<rect x="786" y="258" width="3" height="1" fill="#000"/>
<rect x="791" y="226" width="1" height="39" fill="#000"/>
<rect x="790" y="232" width="3" height="27" fill="#000"/>
<rect x="791" y="233" width="1" height="25" fill="#ff0000"/>
<rect x="795" y="211" width="1" height="41" fill="#000"/>
<rect x="794" y="232" width="3" height="1" fill="#000"/>
<rect x="799" y="213" width="1" height="36" fill="#000"/>
<rect x="798" y="223" width="3" height="10" fill="#000"/>
<rect x="799" y="224" width="1" height="8" fill="#ff0000"/>
<rect x="803" y="221" width="1" height="26" fill="#000"/>
<rect x="802" y="223" width="3" height="13" fill="#000"/>
<rect x="803" y="224" width="1" height="11" fill="#00ff00"/>
<rect x="807" y="223" width="1" height="40" fill="#000"/>
<rect x="806" y="224" width="3" height="12" fill="#000"/>
<rect x="807" y="225" width="1" height="10" fill="#ff0000"/>
<rect x="811" y="213" width="1" height="7" fill="#000"/>
<rect x="810" y="213" width="3" height="6" fill="#000"/>
<rect x="811" y="214" width="1" height="4" fill="#ff0000"/>
<rect x="815" y="204" width="1" height="23" fill="#000"/>
<rect x="814" y="213" width="3" height="8" fill="#000"/>
<rect x="815" y="214" width="1" height="6" fill="#00ff00"/>
<rect x="819" y="180" width="1" height="44" fill="#000"/>
<rect x="818" y="189" width="3" height="32" fill="#000"/>
<rect x="819" y="190" width="1" height="30" fill="#ff0000"/>
<rect x="823" y="160" width="1" height="37" fill="#000"/>
<rect x="822" y="166" width="3" height="23" fill="#000"/>
<rect x="823" y="167" width="1" height="21" fill="#ff0000"/>
<rect x="827" y="136" width="1" height="53" fill="#000"/>
<rect x="826" y="158" width="3" height="9" fill="#000"/>
<rect x="827" y="159" width="1" height="7" fill="#ff0000"/>
<rect x="831" y="137" width="1" height="34" fill="#000"/>
<rect x="830" y="157" width="3" height="5" fill="#000"/>
<rect x="831" y="158" width="1" height="3" fill="#00ff00"/>
<rect x="835" y="148" width="1" height="5" fill="#000"/>
<rect x="834" y="148" width="3" height="5" fill="#000"/>
<rect x="835" y="149" width="1" height="3" fill="#ff0000"/>
<rect x="839" y="146" width="1" height="25" fill="#000"/>
<rect x="838" y="148" width="3" height="22" fill="#000"/>
<rect x="839" y="149" width="1" height="20" fill="#00ff00"/>
<rect x="843" y="135" width="1" height="44" fill="#000"/>
<rect x="842" y="142" width="3" height="28" fill="#000"/>
<rect x="843" y="143" width="1" height="26" fill="#ff0000"/>
<rect x="847" y="132" width="1" height="50" fill="#000"/>
<rect x="846" y="142" width="3" height="36" fill="#000"/>
<rect x="847" y="143" width="1" height="34" fill="#00ff00"/>
<rect x="851" y="171" width="1" height="43" fill="#000"/>
<rect x="850" y="177" width="3" height="37" fill="#000"/>
<rect x="851" y="178" width="1" height="35" fill="#00ff00"/>
<rect x="855" y="214" width="1" height="63" fill="#000"/>
<rect x="854" y="213" width="3" height="37" fill="#000"/>
<rect x="855" y="214" width="1" height="35" fill="#00ff00"/>
<rect x="859" y="250" width="1" height="5" fill="#000"/>
<rect x="858" y="250" width="3" height="4" fill="#000"/>
<rect x="859" y="251" width="1" height="2" fill="#00ff00"/>
<rect x="863" y="252" width="1" height="42" fill="#000"/>
<rect x="862" y="253" width="3" height="31" fill="#000"/>
<rect x="863" y="254" width="1" height="29" fill="#00ff00"/>
<rect x="867" y="238" width="1" height="69" fill="#000"/>
<rect x="866" y="249" width="3" height="35" fill="#000"/>
<rect x="867" y="250" width="1" height="33" fill="#ff0000"/>
<rect x="871" y="236" width="1" height="22" fill="#000"/>
<rect x="870" y="243" width="3" height="7" fill="#000"/>
<rect x="871" y="244" width="1" height="5" fill="#ff0000"/>
<rect x="875" y="234" width="1" height="39" fill="#000"/>
<rect x="874" y="243" width="3" height="2" fill="#000"/>
<rect x="879" y="225" width="1" height="28" fill="#000"/>
<rect x="878" y="230" width="3" height="14" fill="#000"/>
<rect x="879" y="231" width="1" height="12" fill="#ff0000"/>
<rect x="883" y="234" width="1" height="7" fill="#000"/>
<rect x="882" y="235" width="3" height="4" fill="#000"/>
<rect x="883" y="236" width="1" height="2" fill="#00ff00"/>
<rect x="887" y="210" width="1" height="32" fill="#000"/>
<rect x="886" y="235" width="3" height="4" fill="#000"/>
<rect x="887" y="236" width="1" height="2" fill="#ff0000"/>
<rect x="891" y="215" width="1" height="28" fill="#000"/>
<rect x="890" y="235" width="3" height="1" fill="#000"/>
<rect x="895" y="208" width="1" height="36" fill="#000"/>
<rect x="894" y="217" width="3" height="18" fill="#000"/>
<rect x="895" y="218" width="1" height="16" fill="#ff0000"/>
<rect x="899" y="141" width="1" height="103" fill="#000"/>
<rect x="898" y="181" width="3" height="36" fill="#000"/>
<rect x="899" y="182" width="1" height="34" fill="#ff0000"/>
<rect x="903" y="145" width="1" height="39" fill="#000"/>
<rect x="902" y="148" width="3" height="34" fill="#000"/>
<rect x="903" y="149" width="1" height="32" fill="#ff0000"/>
<rect x="907" y="150" width="1" height="7" fill="#000"/>
<rect x="906" y="152" width="3" height="4" fill="#000"/>
<rect x="907" y="153" width="1" height="2" fill="#ff0000"/>
<rect x="911" y="89" width="1" height="72" fill="#000"/>
<rect x="910" y="108" width="3" height="44" fill="#000"/>
<rect x="911" y="109" width="1" height="42" fill="#ff0000"/>
<rect x="915" y="105" width="1" height="37" fill="#000"/>
<rect x="914" y="109" width="3" height="2" fill="#000"/>
<rect x="919" y="89" width="1" height="99" fill="#000"/>
<rect x="918" y="110" width="3" height="63" fill="#000"/>
<rect x="919" y="111" width="1" height="61" fill="#00ff00"/>
<rect x="923" y="138" width="1" height="54" fill="#000"/>
<rect x="922" y="173" width="3" height="15" fill="#000"/>
<rect x="923" y="174" width="1" height="13" fill="#00ff00"/>
<rect x="3" y="70" width="1162" height="2" fill="#ff0000"/>
<rect x="3" y="161" width="1162" height="2" fill="#ff0000"/>
<rect x="3" y="249" width="1162" height="2" fill="#00ff00"/>
<rect x="3" y="339" width="1162" height="2" fill="#0000ff"/>
<rect x="3" y="430" width="1162" height="2" fill="#0000ff"/>
<polygon points="954.2,178.2 966.6,195.4 969.2,194.2 969.8,205.9 960.3,199 963.1,197.6" fill="#99cc00" shape-rendering="geometricPrecision"/>
<polygon points="926.5,22 936.5,22 931.5,27" fill="#000" shape-rendering="geometricPrecision"/>
<rect x="2" y="21" width="1164" height="1" fill="#000"/>
<rect x="2" y="491" width="1164" height="1" fill="#000"/>
<rect x="2" y="21" width="1" height="471" fill="#000"/>
<rect x="1165" y="21" width="1" height="471" fill="#000"/>
<polygon points="6,28 13,28 9.5,32" fill="#000" shape-rendering="geometricPrecision"/>
<text x="18" y="33" font-size="9.5" fill="#000" textLength="69" lengthAdjust="spacingAndGlyphs" font-family="DejaVu Sans Condensed, Liberation Sans, sans-serif">USDCHF-,Daily</text>
<text x="91.5" y="33" font-size="9.5" fill="#000" textLength="141.5" lengthAdjust="spacingAndGlyphs" font-family="DejaVu Sans Condensed, Liberation Sans, sans-serif">0.97763 0.98551 0.97371 0.97461</text>
<rect x="1166" y="26" width="2" height="1" fill="#000"/>
<text x="1171.5" y="30" font-size="9.5" fill="#000" textLength="32" lengthAdjust="spacingAndGlyphs" font-family="DejaVu Sans Condensed, Liberation Sans, sans-serif">1.01060</text>
<rect x="1166" y="59" width="2" height="1" fill="#000"/>
<text x="1171.5" y="63" font-size="9.5" fill="#000" textLength="32" lengthAdjust="spacingAndGlyphs" font-family="DejaVu Sans Condensed, Liberation Sans, sans-serif">1.00320</text>
<rect x="1166" y="92" width="2" height="1" fill="#000"/>
<text x="1171.5" y="96" font-size="9.5" fill="#000" textLength="32" lengthAdjust="spacingAndGlyphs" font-family="DejaVu Sans Condensed, Liberation Sans, sans-serif">0.99580</text>
<rect x="1166" y="125" width="2" height="1" fill="#000"/>
<text x="1171.5" y="129" font-size="9.5" fill="#000" textLength="32" lengthAdjust="spacingAndGlyphs" font-family="DejaVu Sans Condensed, Liberation Sans, sans-serif">0.98840</text>
<rect x="1166" y="158" width="2" height="1" fill="#000"/>
<text x="1171.5" y="162" font-size="9.5" fill="#000" textLength="32" lengthAdjust="spacingAndGlyphs" font-family="DejaVu Sans Condensed, Liberation Sans, sans-serif">0.98100</text>
<rect x="1166" y="191" width="2" height="1" fill="#000"/>
<text x="1171.5" y="195" font-size="9.5" fill="#000" textLength="32" lengthAdjust="spacingAndGlyphs" font-family="DejaVu Sans Condensed, Liberation Sans, sans-serif">0.97360</text>
<rect x="1166" y="224" width="2" height="1" fill="#000"/>
<text x="1171.5" y="228" font-size="9.5" fill="#000" textLength="32" lengthAdjust="spacingAndGlyphs" font-family="DejaVu Sans Condensed, Liberation Sans, sans-serif">0.96620</text>
<rect x="1166" y="257" width="2" height="1" fill="#000"/>
<text x="1171.5" y="261" font-size="9.5" fill="#000" textLength="32" lengthAdjust="spacingAndGlyphs" font-family="DejaVu Sans Condensed, Liberation Sans, sans-serif">0.95880</text>
<rect x="1166" y="290" width="2" height="1" fill="#000"/>
<text x="1171.5" y="294" font-size="9.5" fill="#000" textLength="32" lengthAdjust="spacingAndGlyphs" font-family="DejaVu Sans Condensed, Liberation Sans, sans-serif">0.95140</text>
<rect x="1166" y="323" width="2" height="1" fill="#000"/>
<text x="1171.5" y="327" font-size="9.5" fill="#000" textLength="32" lengthAdjust="spacingAndGlyphs" font-family="DejaVu Sans Condensed, Liberation Sans, sans-serif">0.94400</text>
<rect x="1166" y="356" width="2" height="1" fill="#000"/>
<text x="1171.5" y="360" font-size="9.5" fill="#000" textLength="32" lengthAdjust="spacingAndGlyphs" font-family="DejaVu Sans Condensed, Liberation Sans, sans-serif">0.93660</text>
<rect x="1166" y="389" width="2" height="1" fill="#000"/>
<text x="1171.5" y="393" font-size="9.5" fill="#000" textLength="32" lengthAdjust="spacingAndGlyphs" font-family="DejaVu Sans Condensed, Liberation Sans, sans-serif">0.92920</text>
<rect x="1166" y="422" width="2" height="1" fill="#000"/>
<text x="1171.5" y="426" font-size="9.5" fill="#000" textLength="32" lengthAdjust="spacingAndGlyphs" font-family="DejaVu Sans Condensed, Liberation Sans, sans-serif">0.92200</text>
<rect x="1166" y="455" width="2" height="1" fill="#000"/>
<text x="1171.5" y="459" font-size="9.5" fill="#000" textLength="32" lengthAdjust="spacingAndGlyphs" font-family="DejaVu Sans Condensed, Liberation Sans, sans-serif">0.91460</text>
<rect x="1166" y="488" width="2" height="1" fill="#000"/>
<text x="1171.5" y="492" font-size="9.5" fill="#000" textLength="32" lengthAdjust="spacingAndGlyphs" font-family="DejaVu Sans Condensed, Liberation Sans, sans-serif">0.90720</text>
<rect x="1167" y="65" width="38" height="11" fill="#ff0000"/>
<text x="1171.5" y="74" font-size="9.5" fill="#fff" textLength="32" lengthAdjust="spacingAndGlyphs" font-family="DejaVu Sans Condensed, Liberation Sans, sans-serif">1.00043</text>
<rect x="1167" y="156" width="38" height="11" fill="#ff0000"/>
<text x="1171.5" y="165" font-size="9.5" fill="#fff" textLength="32" lengthAdjust="spacingAndGlyphs" font-family="DejaVu Sans Condensed, Liberation Sans, sans-serif">0.98019</text>
<rect x="1167" y="244" width="38" height="11" fill="#00ff00"/>
<text x="1171.5" y="253" font-size="9.5" fill="#fff" textLength="32" lengthAdjust="spacingAndGlyphs" font-family="DejaVu Sans Condensed, Liberation Sans, sans-serif">0.96043</text>
<rect x="1167" y="334" width="38" height="11" fill="#0000ff"/>
<text x="1171.5" y="343" font-size="9.5" fill="#fff" textLength="32" lengthAdjust="spacingAndGlyphs" font-family="DejaVu Sans Condensed, Liberation Sans, sans-serif">0.94018</text>
<rect x="1167" y="425" width="38" height="11" fill="#0000ff"/>
<text x="1171.5" y="434" font-size="9.5" fill="#fff" textLength="32" lengthAdjust="spacingAndGlyphs" font-family="DejaVu Sans Condensed, Liberation Sans, sans-serif">0.91993</text>
<rect x="1167" y="182" width="38" height="11" fill="#000"/>
<text x="1171.5" y="191" font-size="9.5" fill="#fff" textLength="32" lengthAdjust="spacingAndGlyphs" font-family="DejaVu Sans Condensed, Liberation Sans, sans-serif">0.97461</text>
<rect x="2" y="527" width="3" height="5" fill="#00ff00"/>
<rect x="6" y="527" width="3" height="5" fill="#00ff00"/>
<rect x="10" y="527" width="3" height="4" fill="#00ff00"/>
<rect x="14" y="527" width="3" height="3" fill="#00ff00"/>
<rect x="18" y="527" width="3" height="1" fill="#00ff00"/>
<rect x="22" y="527" width="3" height="1" fill="#00ff00"/>
<rect x="26" y="526" width="3" height="1" fill="#00ff00"/>
<rect x="30" y="527" width="3" height="1" fill="#00ff00"/>
<rect x="34" y="527" width="3" height="1" fill="#00ff00"/>
<rect x="38" y="527" width="3" height="1" fill="#00ff00"/>
<rect x="42" y="527" width="3" height="3" fill="#00ff00"/>
<rect x="46" y="527" width="3" height="3" fill="#00ff00"/>
<rect x="50" y="527" width="3" height="3" fill="#00ff00"/>
<rect x="54" y="527" width="3" height="3" fill="#00ff00"/>
<rect x="58" y="527" width="3" height="3" fill="#00ff00"/>
<rect x="62" y="527" width="3" height="1" fill="#00ff00"/>
<rect x="66" y="527" width="3" height="4" fill="#00ff00"/>
<rect x="70" y="527" width="3" height="4" fill="#00ff00"/>
<rect x="74" y="527" width="3" height="1" fill="#00ff00"/>
<rect x="78" y="527" width="3" height="1" fill="#00ff00"/>
<rect x="82" y="525" width="3" height="2" fill="#00ff00"/>
<rect x="86" y="523" width="3" height="4" fill="#00ff00"/>
<rect x="90" y="522" width="3" height="5" fill="#00ff00"/>
<rect x="94" y="521" width="3" height="6" fill="#00ff00"/>
<rect x="98" y="522" width="3" height="5" fill="#00ff00"/>
<rect x="102" y="523" width="3" height="4" fill="#00ff00"/>
<rect x="106" y="524" width="3" height="3" fill="#00ff00"/>
<rect x="110" y="524" width="3" height="3" fill="#00ff00"/>
<rect x="114" y="524" width="3" height="3" fill="#00ff00"/>
<rect x="118" y="524" width="3" height="3" fill="#00ff00"/>
<rect x="122" y="524" width="3" height="3" fill="#00ff00"/>
<rect x="126" y="524" width="3" height="3" fill="#00ff00"/>
<rect x="130" y="524" width="3" height="3" fill="#00ff00"/>
<rect x="134" y="524" width="3" height="3" fill="#00ff00"/>
<rect x="138" y="524" width="3" height="3" fill="#00ff00"/>
<rect x="142" y="524" width="3" height="3" fill="#00ff00"/>
<rect x="146" y="524" width="3" height="3" fill="#00ff00"/>
<rect x="150" y="524" width="3" height="3" fill="#00ff00"/>
<rect x="154" y="525" width="3" height="2" fill="#00ff00"/>
<rect x="158" y="525" width="3" height="2" fill="#00ff00"/>
<rect x="162" y="526" width="3" height="1" fill="#00ff00"/>
<rect x="166" y="527" width="3" height="1" fill="#00ff00"/>
<rect x="170" y="527" width="3" height="1" fill="#00ff00"/>
<rect x="174" y="527" width="3" height="2" fill="#00ff00"/>
<rect x="178" y="527" width="3" height="1" fill="#00ff00"/>
<rect x="182" y="527" width="3" height="1" fill="#00ff00"/>
<rect x="186" y="527" width="3" height="1" fill="#00ff00"/>
<rect x="190" y="527" width="3" height="1" fill="#00ff00"/>
<rect x="194" y="527" width="3" height="1" fill="#00ff00"/>
<rect x="198" y="527" width="3" height="1" fill="#00ff00"/>
<rect x="202" y="527" width="3" height="2" fill="#00ff00"/>
<rect x="206" y="527" width="3" height="2" fill="#00ff00"/>
<rect x="210" y="527" width="3" height="2" fill="#00ff00"/>
<rect x="214" y="527" width="3" height="1" fill="#00ff00"/>
<rect x="218" y="527" width="3" height="1" fill="#00ff00"/>
<rect x="222" y="525" width="3" height="2" fill="#00ff00"/>
<rect x="226" y="524" width="3" height="3" fill="#00ff00"/>
<rect x="230" y="523" width="3" height="4" fill="#00ff00"/>
<rect x="234" y="521" width="3" height="6" fill="#00ff00"/>
<rect x="238" y="520" width="3" height="7" fill="#00ff00"/>
<rect x="242" y="518" width="3" height="9" fill="#00ff00"/>
<rect x="246" y="517" width="3" height="10" fill="#00ff00"/>
<rect x="250" y="517" width="3" height="10" fill="#00ff00"/>
<rect x="254" y="518" width="3" height="9" fill="#00ff00"/>
<rect x="258" y="519" width="3" height="8" fill="#00ff00"/>
<rect x="262" y="520" width="3" height="7" fill="#00ff00"/>
<rect x="266" y="521" width="3" height="6" fill="#00ff00"/>
<rect x="270" y="521" width="3" height="6" fill="#00ff00"/>
<rect x="274" y="522" width="3" height="5" fill="#00ff00"/>
<rect x="278" y="523" width="3" height="4" fill="#00ff00"/>
<rect x="282" y="523" width="3" height="4" fill="#00ff00"/>
<rect x="286" y="523" width="3" height="4" fill="#00ff00"/>
<rect x="290" y="523" width="3" height="4" fill="#00ff00"/>
<rect x="294" y="526" width="3" height="1" fill="#00ff00"/>
<rect x="298" y="527" width="3" height="1" fill="#00ff00"/>
<rect x="302" y="527" width="3" height="1" fill="#00ff00"/>
<rect x="306" y="527" width="3" height="1" fill="#00ff00"/>
<rect x="310" y="527" width="3" height="2" fill="#00ff00"/>
<rect x="314" y="527" width="3" height="1" fill="#00ff00"/>
<rect x="318" y="526" width="3" height="1" fill="#00ff00"/>
<rect x="322" y="526" width="3" height="1" fill="#00ff00"/>
<rect x="326" y="526" width="3" height="1" fill="#00ff00"/>
<rect x="330" y="526" width="3" height="1" fill="#00ff00"/>
<rect x="334" y="526" width="3" height="1" fill="#00ff00"/>
<rect x="338" y="526" width="3" height="1" fill="#00ff00"/>
<rect x="342" y="524" width="3" height="3" fill="#00ff00"/>
<rect x="346" y="523" width="3" height="4" fill="#00ff00"/>
<rect x="350" y="522" width="3" height="5" fill="#00ff00"/>
<rect x="354" y="521" width="3" height="6" fill="#00ff00"/>
<rect x="358" y="520" width="3" height="7" fill="#00ff00"/>
<rect x="362" y="518" width="3" height="9" fill="#00ff00"/>
<rect x="366" y="517" width="3" height="10" fill="#00ff00"/>
<rect x="370" y="515" width="3" height="12" fill="#00ff00"/>
<rect x="374" y="514" width="3" height="13" fill="#00ff00"/>
<rect x="378" y="513" width="3" height="14" fill="#00ff00"/>
<rect x="382" y="512" width="3" height="15" fill="#00ff00"/>
<rect x="386" y="511" width="3" height="16" fill="#00ff00"/>
<rect x="390" y="509" width="3" height="18" fill="#00ff00"/>
<rect x="394" y="508" width="3" height="19" fill="#00ff00"/>
<rect x="398" y="507" width="3" height="20" fill="#00ff00"/>
<rect x="402" y="506" width="3" height="21" fill="#00ff00"/>
<rect x="406" y="504" width="3" height="23" fill="#00ff00"/>
<rect x="410" y="504" width="3" height="23" fill="#00ff00"/>
<rect x="414" y="503" width="3" height="24" fill="#00ff00"/>
<rect x="418" y="502" width="3" height="25" fill="#00ff00"/>
<rect x="422" y="501" width="3" height="26" fill="#00ff00"/>
<rect x="426" y="500" width="3" height="27" fill="#00ff00"/>
<rect x="430" y="500" width="3" height="27" fill="#00ff00"/>
<rect x="434" y="499" width="3" height="28" fill="#00ff00"/>
<rect x="438" y="499" width="3" height="28" fill="#00ff00"/>
<rect x="442" y="497" width="3" height="30" fill="#00ff00"/>
<rect x="446" y="497" width="3" height="30" fill="#00ff00"/>
<rect x="450" y="497" width="3" height="30" fill="#00ff00"/>
<rect x="454" y="498" width="3" height="29" fill="#00ff00"/>
<rect x="458" y="499" width="3" height="28" fill="#00ff00"/>
<rect x="462" y="503" width="3" height="24" fill="#00ff00"/>
<rect x="466" y="507" width="3" height="20" fill="#00ff00"/>
<rect x="470" y="510" width="3" height="17" fill="#00ff00"/>
<rect x="474" y="513" width="3" height="14" fill="#00ff00"/>
<rect x="478" y="517" width="3" height="10" fill="#00ff00"/>
<rect x="482" y="521" width="3" height="6" fill="#00ff00"/>
<rect x="486" y="524" width="3" height="3" fill="#00ff00"/>
<rect x="490" y="527" width="3" height="1" fill="#00ff00"/>
<rect x="494" y="527" width="3" height="4" fill="#00ff00"/>
<rect x="498" y="527" width="3" height="5" fill="#00ff00"/>
<rect x="502" y="527" width="3" height="7" fill="#00ff00"/>
<rect x="506" y="527" width="3" height="8" fill="#00ff00"/>
<rect x="510" y="527" width="3" height="8" fill="#00ff00"/>
<rect x="514" y="527" width="3" height="8" fill="#00ff00"/>
<rect x="518" y="527" width="3" height="8" fill="#00ff00"/>
<rect x="522" y="527" width="3" height="6" fill="#00ff00"/>
<rect x="526" y="527" width="3" height="6" fill="#00ff00"/>
<rect x="530" y="527" width="3" height="4" fill="#00ff00"/>
<rect x="534" y="527" width="3" height="2" fill="#00ff00"/>
<rect x="538" y="527" width="3" height="1" fill="#00ff00"/>
<rect x="542" y="524" width="3" height="3" fill="#00ff00"/>
<rect x="546" y="522" width="3" height="5" fill="#00ff00"/>
<rect x="550" y="519" width="3" height="8" fill="#00ff00"/>
<rect x="554" y="516" width="3" height="11" fill="#00ff00"/>
<rect x="558" y="514" width="3" height="13" fill="#00ff00"/>
<rect x="562" y="517" width="3" height="10" fill="#00ff00"/>
<rect x="566" y="520" width="3" height="7" fill="#00ff00"/>
<rect x="570" y="522" width="3" height="5" fill="#00ff00"/>
<rect x="574" y="524" width="3" height="3" fill="#00ff00"/>
<rect x="578" y="526" width="3" height="1" fill="#00ff00"/>
<rect x="582" y="527" width="3" height="1" fill="#00ff00"/>
<rect x="586" y="527" width="3" height="4" fill="#00ff00"/>
<rect x="590" y="527" width="3" height="5" fill="#00ff00"/>
<rect x="594" y="527" width="3" height="6" fill="#00ff00"/>
<rect x="598" y="527" width="3" height="8" fill="#00ff00"/>
<rect x="602" y="527" width="3" height="9" fill="#00ff00"/>
<rect x="606" y="527" width="3" height="10" fill="#00ff00"/>
<rect x="610" y="527" width="3" height="11" fill="#00ff00"/>
<rect x="614" y="527" width="3" height="11" fill="#00ff00"/>
<rect x="618" y="527" width="3" height="10" fill="#00ff00"/>
<rect x="622" y="527" width="3" height="9" fill="#00ff00"/>
<rect x="626" y="527" width="3" height="6" fill="#00ff00"/>
<rect x="630" y="527" width="3" height="5" fill="#00ff00"/>
<rect x="634" y="527" width="3" height="4" fill="#00ff00"/>
<rect x="638" y="527" width="3" height="1" fill="#00ff00"/>
<rect x="642" y="527" width="3" height="1" fill="#00ff00"/>
<rect x="646" y="523" width="3" height="4" fill="#00ff00"/>
<rect x="650" y="523" width="3" height="4" fill="#00ff00"/>
<rect x="654" y="521" width="3" height="6" fill="#00ff00"/>
<rect x="658" y="521" width="3" height="6" fill="#00ff00"/>
<rect x="662" y="520" width="3" height="7" fill="#00ff00"/>
<rect x="666" y="520" width="3" height="7" fill="#00ff00"/>
<rect x="670" y="520" width="3" height="7" fill="#00ff00"/>
<rect x="674" y="522" width="3" height="5" fill="#00ff00"/>
<rect x="678" y="523" width="3" height="4" fill="#00ff00"/>
<rect x="682" y="524" width="3" height="3" fill="#00ff00"/>
<rect x="686" y="526" width="3" height="1" fill="#00ff00"/>
<rect x="690" y="527" width="3" height="2" fill="#00ff00"/>
<rect x="694" y="527" width="3" height="2" fill="#00ff00"/>
<rect x="698" y="527" width="3" height="3" fill="#00ff00"/>
<rect x="702" y="527" width="3" height="5" fill="#00ff00"/>
<rect x="706" y="527" width="3" height="7" fill="#00ff00"/>
<rect x="710" y="527" width="3" height="8" fill="#00ff00"/>
<rect x="714" y="527" width="3" height="9" fill="#00ff00"/>
<rect x="718" y="527" width="3" height="10" fill="#00ff00"/>
<rect x="722" y="527" width="3" height="9" fill="#00ff00"/>
<rect x="726" y="527" width="3" height="8" fill="#00ff00"/>
<rect x="730" y="527" width="3" height="8" fill="#00ff00"/>
<rect x="734" y="527" width="3" height="8" fill="#00ff00"/>
<rect x="738" y="527" width="3" height="8" fill="#00ff00"/>
<rect x="742" y="527" width="3" height="8" fill="#00ff00"/>
<rect x="746" y="527" width="3" height="8" fill="#00ff00"/>
<rect x="750" y="527" width="3" height="9" fill="#00ff00"/>
<rect x="754" y="527" width="3" height="11" fill="#00ff00"/>
<rect x="758" y="527" width="3" height="13" fill="#00ff00"/>
<rect x="762" y="527" width="3" height="13" fill="#00ff00"/>
<rect x="766" y="527" width="3" height="12" fill="#00ff00"/>
<rect x="770" y="527" width="3" height="11" fill="#00ff00"/>
<rect x="774" y="527" width="3" height="8" fill="#00ff00"/>
<rect x="778" y="527" width="3" height="7" fill="#00ff00"/>
<rect x="782" y="527" width="3" height="6" fill="#00ff00"/>
<rect x="786" y="527" width="3" height="4" fill="#00ff00"/>
<rect x="790" y="527" width="3" height="2" fill="#00ff00"/>
<rect x="794" y="527" width="3" height="1" fill="#00ff00"/>
<rect x="798" y="526" width="3" height="1" fill="#00ff00"/>
<rect x="802" y="525" width="3" height="2" fill="#00ff00"/>
<rect x="806" y="524" width="3" height="3" fill="#00ff00"/>
<rect x="810" y="523" width="3" height="4" fill="#00ff00"/>
<rect x="814" y="521" width="3" height="6" fill="#00ff00"/>
<rect x="818" y="519" width="3" height="8" fill="#00ff00"/>
<rect x="822" y="518" width="3" height="9" fill="#00ff00"/>
<rect x="826" y="516" width="3" height="11" fill="#00ff00"/>
<rect x="830" y="515" width="3" height="12" fill="#00ff00"/>
<rect x="834" y="514" width="3" height="13" fill="#00ff00"/>
<rect x="838" y="514" width="3" height="13" fill="#00ff00"/>
<rect x="842" y="513" width="3" height="14" fill="#00ff00"/>
<rect x="846" y="516" width="3" height="11" fill="#00ff00"/>
<rect x="850" y="518" width="3" height="9" fill="#00ff00"/>
<rect x="854" y="520" width="3" height="7" fill="#00ff00"/>
<rect x="858" y="523" width="3" height="4" fill="#00ff00"/>
<rect x="862" y="525" width="3" height="2" fill="#00ff00"/>
<rect x="866" y="526" width="3" height="1" fill="#00ff00"/>
<rect x="870" y="527" width="3" height="1" fill="#00ff00"/>
<rect x="874" y="527" width="3" height="1" fill="#00ff00"/>
<rect x="878" y="527" width="3" height="1" fill="#00ff00"/>
<rect x="882" y="527" width="3" height="2" fill="#00ff00"/>
<rect x="886" y="527" width="3" height="2" fill="#00ff00"/>
<rect x="890" y="527" width="3" height="1" fill="#00ff00"/>
<rect x="894" y="526" width="3" height="1" fill="#00ff00"/>
<rect x="898" y="524" width="3" height="3" fill="#00ff00"/>
<rect x="902" y="522" width="3" height="5" fill="#00ff00"/>
<rect x="906" y="519" width="3" height="8" fill="#00ff00"/>
<rect x="910" y="517" width="3" height="10" fill="#00ff00"/>
<rect x="914" y="516" width="3" height="11" fill="#00ff00"/>
<rect x="918" y="517" width="3" height="10" fill="#00ff00"/>
<rect x="922" y="518" width="3" height="9" fill="#00ff00"/>
<polyline points="3,530.0 7,530.0 11,531.0 15,531.0 19,530.0 23,530.0 27,530.0 31,529.0 35,529.0 39,529.0 43,528.0 47,528.0 51,528.0 55,528.0 59,528.0 63,529.0 67,529.0 71,529.0 75,529.0 79,529.0 83,529.0 87,529.0 91,527.5 95,526.0 99,525.5 103,525.0 107,524.5 111,523.5 115,523.0 119,523.0 123,523.0 127,523.0 131,523.0 135,523.0 139,523.0 143,523.0 147,523.0 151,523.0 155,524.0 159,524.0 163,524.0 167,525.0 171,525.0 175,525.0 179,526.0 183,526.0 187,526.0 191,526.0 195,527.0 199,527.0 203,527.0 207,527.0 211,527.0 215,527.0 219,527.0 223,527.0 227,527.0 231,527.0 235,526.0 239,525.5 243,524.0 247,522.5 251,521.5 255,520.5 259,520.0 263,519.0 267,519.0 271,519.0 275,519.0 279,519.0 283,520.0 287,520.5 291,521.0 295,521.5 299,522.5 303,523.0 307,524.0 311,524.5 315,525.5 319,525.5 323,525.5 327,525.5 331,525.5 335,525.5 339,525.5 343,525.5 347,525.0 351,524.5 355,524.0 359,523.0 363,522.5 367,521.5 371,520.5 375,519.5 379,518.5 383,517.5 387,517.0 391,516.0 395,514.0 399,512.5 403,511.0 407,510.0 411,509.0 415,508.0 419,506.5 423,505.5 427,504.5 431,503.5 435,502.5 439,501.5 443,501.0 447,500.5 451,499.5 455,498.5 459,498.0 463,498.5 467,499.5 471,500.5 475,502.0 479,504.5 483,507.0 487,510.0 491,513.0 495,517.0 499,521.0 503,524.0 507,526.5 511,528.5 515,530.5 519,532.0 523,533.0 527,533.5 531,533.5 535,533.5 539,533.0 543,532.0 547,530.5 551,529.0 555,526.5 559,523.5 563,522.0 567,520.0 571,520.0 575,520.0 579,520.0 583,521.0 587,522.5 591,524.5 595,526.5 599,528.5 603,530.5 607,532.0 611,533.5 615,534.5 619,535.0 623,534.5 627,534.5 631,534.5 635,534.5 639,534.5 643,533.0 647,531.5 651,529.5 655,528.0 659,526.5 663,525.0 667,523.5 671,522.5 675,522.0 679,521.5 683,522.0 687,522.5 691,522.5 695,523.5 699,525.0 703,527.0 707,528.0 711,529.5 715,531.0 719,532.0 723,533.0 727,534.0 731,534.5 735,534.5 739,535.0 743,535.0 747,535.0 751,535.0 755,535.0 759,535.5 763,536.0 767,536.0 771,536.5 775,536.5 779,536.5 783,536.5 787,536.5 791,536.0 795,535.0 799,534.0 803,532.0 807,530.5 811,529.0 815,527.5 819,526.0 823,524.5 827,523.0 831,522.0 835,520.5 839,519.5 843,518.0 847,516.5 851,516.0 855,516.0 859,516.0 863,517.0 867,518.0 871,519.5 875,521.5 879,523.0 883,524.0 887,525.5 891,526.5 895,527.0 899,527.0 903,527.0 907,526.5 911,525.5 915,524.0 919,522.5 923,522.0" fill="none" stroke="#ff0000" stroke-width="2" stroke-linejoin="round"/>
<rect x="2" y="493" width="1164" height="1" fill="#000"/>
<rect x="2" y="542" width="1164" height="1" fill="#000"/>
<rect x="2" y="493" width="1" height="50" fill="#000"/>
<rect x="1165" y="493" width="1" height="50" fill="#000"/>
<text x="7" y="506" font-size="9.5" fill="#000" textLength="148" lengthAdjust="spacingAndGlyphs" font-family="DejaVu Sans Condensed, Liberation Sans, sans-serif">MACD(12,26,9) 0.004368 0.002563</text>
<rect x="1166" y="495" width="2" height="1" fill="#000"/>
<rect x="1166" y="527" width="2" height="1" fill="#000"/>
<rect x="1166" y="541" width="2" height="1" fill="#000"/>
<text x="1169" y="503.5" font-size="9.5" fill="#000" textLength="36" lengthAdjust="spacingAndGlyphs" font-family="DejaVu Sans Condensed, Liberation Sans, sans-serif">0.015654</text>
<text x="1169" y="530.5" font-size="9.5" fill="#000" textLength="17" lengthAdjust="spacingAndGlyphs" font-family="DejaVu Sans Condensed, Liberation Sans, sans-serif">0.00</text>
<text x="1168.5" y="538.7" font-size="9.5" fill="#000" textLength="36.5" lengthAdjust="spacingAndGlyphs" font-family="DejaVu Sans Condensed, Liberation Sans, sans-serif">-0.00725</text>
<line x1="4" y1="561.5" x2="1165" y2="561.5" stroke="#000" stroke-width="1" stroke-dasharray="3,3"/>
<line x1="4" y1="581.5" x2="1165" y2="581.5" stroke="#000" stroke-width="1" stroke-dasharray="3,3"/>
<polyline points="3,573.0 7,573.0 11,570.0 15,571.0 19,570.5 23,566.0 27,568.0 31,573.5 35,575.5 39,574.5 43,574.0 47,573.5 51,572.0 55,572.0 59,572.0 63,574.5 67,574.0 71,573.5 75,570.5 79,566.5 83,564.0 87,563.0 91,563.0 95,566.5 99,571.0 103,571.5 107,571.5 111,569.0 115,568.0 119,570.0 123,569.0 127,568.5 131,568.5 135,568.0 139,569.0 143,569.0 147,569.0 151,572.0 155,573.0 159,573.0 163,572.0 167,575.5 171,572.0 175,573.5 179,569.0 183,568.0 187,568.0 191,573.5 195,573.0 199,573.0 203,574.0 207,573.5 211,572.0 215,568.5 219,566.5 223,567.0 227,567.0 231,565.0 235,564.0 239,563.0 243,561.5 247,560.5 251,566.0 255,569.0 259,569.0 263,568.0 267,568.5 271,570.5 275,571.0 279,571.0 283,570.0 287,569.5 291,570.0 295,575.0 299,576.0 303,574.5 307,574.0 311,573.0 315,571.0 319,568.5 323,567.5 327,567.0 331,567.0 335,569.5 339,570.0 343,568.5 347,563.0 351,562.5 355,563.0 359,561.5 363,559.0 367,560.5 371,559.5 375,559.0 379,558.5 383,558.5 387,557.5 391,555.5 395,555.0 399,554.5 403,554.5 407,554.5 411,554.0 415,558.5 419,556.5 423,555.5 427,555.0 431,554.5 435,554.0 439,554.5 443,554.5 447,554.0 451,554.0 455,555.0 459,562.0 463,566.0 467,574.0 471,572.5 475,572.0 479,576.0 483,578.0 487,578.0 491,578.0 495,578.0 499,578.0 503,578.0 507,578.0 511,576.0 515,576.5 519,575.0 523,574.0 527,570.0 531,569.0 535,567.0 539,565.5 543,563.5 547,562.0 551,560.5 555,560.0 559,564.0 563,573.5 567,573.5 571,573.5 575,574.0 579,574.0 583,576.0 587,576.0 591,576.5 595,577.0 599,578.0 603,578.0 607,579.0 611,578.5 615,576.0 619,575.0 623,575.0 627,571.0 631,569.0 635,567.5 639,565.5 643,565.0 647,564.0 651,564.0 655,564.0 659,564.5 663,567.0 667,568.5 671,569.0 675,572.5 679,573.0 683,574.0 687,575.5 691,576.0 695,576.0 699,576.0 703,578.0 707,580.5 711,581.0 715,581.0 719,581.0 723,575.5 727,574.0 731,575.5 735,573.0 739,571.5 743,575.0 747,575.0 751,578.0 755,580.0 759,580.0 763,579.5 767,577.5 771,575.0 775,574.0 779,571.0 783,569.5 787,569.0 791,567.0 795,565.5 799,565.5 803,566.5 807,566.5 811,565.5 815,565.5 819,564.0 823,561.0 827,560.5 831,560.5 835,560.5 839,563.5 843,562.0 847,566.5 851,570.5 855,574.0 859,575.0 863,576.5 867,574.0 871,573.0 875,572.5 879,572.0 883,571.5 887,571.5 891,571.5 895,570.0 899,567.0 903,564.5 907,564.0 911,562.0 915,560.5 919,569.5 923,570.0" fill="none" stroke="#1e90ff" stroke-width="2" stroke-linejoin="round"/>
<rect x="2" y="544" width="1164" height="1" fill="#000"/>
<rect x="2" y="597" width="1164" height="1" fill="#000"/>
<rect x="2" y="544" width="1" height="54" fill="#000"/>
<rect x="1165" y="544" width="1" height="54" fill="#000"/>
<text x="7" y="557" font-size="9.5" fill="#000" textLength="68" lengthAdjust="spacingAndGlyphs" font-family="DejaVu Sans Condensed, Liberation Sans, sans-serif">RSI(14) 52.0379</text>
<rect x="1166" y="546" width="2" height="1" fill="#000"/>
<rect x="1166" y="561" width="2" height="1" fill="#000"/>
<rect x="1166" y="581" width="2" height="1" fill="#000"/>
<rect x="1166" y="596" width="2" height="1" fill="#000"/>
<text x="1169.5" y="555" font-size="9.5" fill="#000" textLength="14.5" lengthAdjust="spacingAndGlyphs" font-family="DejaVu Sans Condensed, Liberation Sans, sans-serif">100</text>
<text x="1168.5" y="565" font-size="9.5" fill="#000" textLength="9.5" lengthAdjust="spacingAndGlyphs" font-family="DejaVu Sans Condensed, Liberation Sans, sans-serif">70</text>
<text x="1168.5" y="585" font-size="9.5" fill="#000" textLength="9.5" lengthAdjust="spacingAndGlyphs" font-family="DejaVu Sans Condensed, Liberation Sans, sans-serif">30</text>
<text x="1169.5" y="594" font-size="9.5" fill="#000" textLength="4.5" lengthAdjust="spacingAndGlyphs" font-family="DejaVu Sans Condensed, Liberation Sans, sans-serif">0</text>
<rect x="3" y="598" width="1" height="3" fill="#000"/>
<text x="2.2" y="610" font-size="9.5" fill="#000" textLength="45" lengthAdjust="spacingAndGlyphs" font-family="DejaVu Sans Condensed, Liberation Sans, sans-serif">4 <tspan font-family="DejaVu Sans Mono, Liberation Mono, monospace">J</tspan>an 2022</text>
<rect x="67" y="598" width="1" height="3" fill="#000"/>
<text x="66.2" y="610" font-size="9.5" fill="#000" textLength="50" lengthAdjust="spacingAndGlyphs" font-family="DejaVu Sans Condensed, Liberation Sans, sans-serif">23 <tspan font-family="DejaVu Sans Mono, Liberation Mono, monospace">J</tspan>an 2022</text>
<rect x="131" y="598" width="1" height="3" fill="#000"/>
<text x="130.2" y="610" font-size="9.5" fill="#000" textLength="51" lengthAdjust="spacingAndGlyphs" font-family="DejaVu Sans Condensed, Liberation Sans, sans-serif">10 Feb 2022</text>
<rect x="195" y="598" width="1" height="3" fill="#000"/>
<text x="194.2" y="610" font-size="9.5" fill="#000" textLength="46.5" lengthAdjust="spacingAndGlyphs" font-family="DejaVu Sans Condensed, Liberation Sans, sans-serif">1 Mar 2022</text>
<rect x="259" y="598" width="1" height="3" fill="#000"/>
<text x="258.2" y="610" font-size="9.5" fill="#000" textLength="51.2" lengthAdjust="spacingAndGlyphs" font-family="DejaVu Sans Condensed, Liberation Sans, sans-serif">20 Mar 2022</text>
<rect x="323" y="598" width="1" height="3" fill="#000"/>
<text x="322.2" y="610" font-size="9.5" fill="#000" textLength="45.3" lengthAdjust="spacingAndGlyphs" font-family="DejaVu Sans Condensed, Liberation Sans, sans-serif">7 Apr 2022</text>
<rect x="387" y="598" width="1" height="3" fill="#000"/>
<text x="386.2" y="610" font-size="9.5" fill="#000" textLength="50.7" lengthAdjust="spacingAndGlyphs" font-family="DejaVu Sans Condensed, Liberation Sans, sans-serif">26 Apr 2022</text>
<rect x="451" y="598" width="1" height="3" fill="#000"/>
<text x="450.2" y="610" font-size="9.5" fill="#000" textLength="54.4" lengthAdjust="spacingAndGlyphs" font-family="DejaVu Sans Condensed, Liberation Sans, sans-serif">15 May 2022</text>
<rect x="515" y="598" width="1" height="3" fill="#000"/>
<text x="514.2" y="610" font-size="9.5" fill="#000" textLength="44.3" lengthAdjust="spacingAndGlyphs" font-family="DejaVu Sans Condensed, Liberation Sans, sans-serif">2 <tspan font-family="DejaVu Sans Mono, Liberation Mono, monospace">J</tspan>un 2022</text>
<rect x="579" y="598" width="1" height="3" fill="#000"/>
<text x="578.2" y="610" font-size="9.5" fill="#000" textLength="48.9" lengthAdjust="spacingAndGlyphs" font-family="DejaVu Sans Condensed, Liberation Sans, sans-serif">21 <tspan font-family="DejaVu Sans Mono, Liberation Mono, monospace">J</tspan>un 2022</text>
<rect x="643" y="598" width="1" height="3" fill="#000"/>
<text x="642.2" y="610" font-size="9.5" fill="#000" textLength="46.2" lengthAdjust="spacingAndGlyphs" font-family="DejaVu Sans Condensed, Liberation Sans, sans-serif">10 <tspan font-family="DejaVu Sans Mono, Liberation Mono, monospace">J</tspan>ul 2022</text>
<rect x="707" y="598" width="1" height="3" fill="#000"/>
<text x="706.2" y="610" font-size="9.5" fill="#000" textLength="47" lengthAdjust="spacingAndGlyphs" font-family="DejaVu Sans Condensed, Liberation Sans, sans-serif">28 <tspan font-family="DejaVu Sans Mono, Liberation Mono, monospace">J</tspan>ul 2022</text>
<rect x="771" y="598" width="1" height="3" fill="#000"/>
<text x="770.2" y="610" font-size="9.5" fill="#000" textLength="51.8" lengthAdjust="spacingAndGlyphs" font-family="DejaVu Sans Condensed, Liberation Sans, sans-serif">16 Aug 2022</text>
<rect x="835" y="598" width="1" height="3" fill="#000"/>
<text x="834.2" y="610" font-size="9.5" fill="#000" textLength="46.2" lengthAdjust="spacingAndGlyphs" font-family="DejaVu Sans Condensed, Liberation Sans, sans-serif">4 Sep 2022</text>
<rect x="899" y="598" width="1" height="3" fill="#000"/>
<text x="898.2" y="610" font-size="9.5" fill="#000" textLength="51.5" lengthAdjust="spacingAndGlyphs" font-family="DejaVu Sans Condensed, Liberation Sans, sans-serif">22 Sep 2022</text>
<rect x="0" y="618" width="1205" height="1" fill="#e3e3e3"/>
<rect x="0" y="619" width="1205" height="1" fill="#fff"/>
<rect x="0" y="620" width="1205" height="1" fill="#000"/>
<rect x="0" y="621" width="1205" height="1" fill="#fcfcfc"/>
<rect x="0" y="622" width="1205" height="18" fill="#f0f0f0"/>
<rect x="0" y="640" width="1205" height="2" fill="#fafafa"/>
<rect x="319" y="621" width="1" height="18" fill="#fcfcfc"/>
<rect x="428" y="621" width="1" height="18" fill="#fcfcfc"/>
<rect x="320" y="620" width="108" height="19" fill="#000"/>
<rect x="321" y="620" width="106" height="18" fill="#fff"/>
<text x="15.5" y="635" font-size="12.5" fill="#808080" textLength="77.5" lengthAdjust="spacingAndGlyphs">USDX,Weekly</text>
<text x="115.5" y="635" font-size="12.5" fill="#808080" textLength="84.5" lengthAdjust="spacingAndGlyphs">EURUSD-,Daily</text>
<text x="222.5" y="635" font-size="12.5" fill="#808080" textLength="86.5" lengthAdjust="spacingAndGlyphs">AUDUSD-,Daily</text>
<text x="332.5" y="635" font-size="12.5" fill="#000" textLength="83.5" lengthAdjust="spacingAndGlyphs">USDCHF-,Daily</text>
<text x="439" y="635" font-size="12.5" fill="#808080" textLength="86" lengthAdjust="spacingAndGlyphs">USDCAD-,Daily</text>
<text x="548" y="635" font-size="12.5" fill="#808080" textLength="88" lengthAdjust="spacingAndGlyphs">USDCNH-,Daily</text>
<text x="658" y="635" font-size="12.5" fill="#808080" textLength="54" lengthAdjust="spacingAndGlyphs">HK50-,H1</text>
<text x="734" y="635" font-size="12.5" fill="#808080" textLength="71" lengthAdjust="spacingAndGlyphs">EURCHF-,H1</text>
<text x="828" y="635" font-size="12.5" fill="#808080" textLength="68" lengthAdjust="spacingAndGlyphs">USOil-,Daily</text>
<text x="919" y="635" font-size="12.5" fill="#808080" textLength="69" lengthAdjust="spacingAndGlyphs">UKOil-,Daily</text>
<text x="1011" y="635" font-size="12.5" fill="#808080" textLength="86" lengthAdjust="spacingAndGlyphs">XAUUSD-,Daily</text>
<text x="1119" y="635" font-size="12.5" fill="#808080" textLength="56" lengthAdjust="spacingAndGlyphs">UKOil-,Da</text>
<rect x="104" y="623" width="1" height="15" fill="#808080"/>
<rect x="212" y="623" width="1" height="15" fill="#808080"/>
<rect x="536" y="623" width="1" height="15" fill="#808080"/>
<rect x="648" y="623" width="1" height="15" fill="#808080"/>
<rect x="724" y="623" width="1" height="15" fill="#808080"/>
<rect x="816" y="623" width="1" height="15" fill="#808080"/>
<rect x="908" y="623" width="1" height="15" fill="#808080"/>
<rect x="1000" y="623" width="1" height="15" fill="#808080"/>
<rect x="1109" y="623" width="1" height="15" fill="#808080"/>
<polygon points="1181,629.5 1184.5,626 1184.5,633" fill="#a0a0a0" shape-rendering="geometricPrecision"/>
<polygon points="1203.5,629.5 1200,626 1200,633" fill="#000" shape-rendering="geometricPrecision"/>
</svg>
</body></html>
